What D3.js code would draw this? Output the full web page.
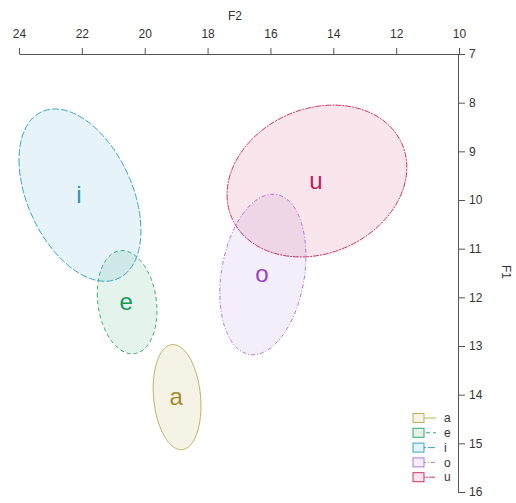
<!DOCTYPE html>
<html>
<head>
<meta charset="UTF-8">
<script src="https://d3js.org/d3.v7.min.js"></script>
<style>
  body { margin: 0; background: #fff; }
  svg text { font-family: "Liberation Sans", Arial, sans-serif; }
</style>
</head>
<body>
<div id="chart"></div>
<script>
// vowel data: means, half-extents and correlation of F2/F1 (in 100 Hz)
const vowels = ["a", "e", "i", "o", "u"];
const meanF2 = [18.97, 20.56, 22.06, 16.24, 14.52];
const meanF1 = [14.05, 12.10, 9.90, 11.53, 9.61];
const radF2 = [0.76, 0.95, 1.94, 1.37, 2.86];
const radF1 = [1.08, 1.06, 1.77, 1.65, 1.56];
const corr = [-0.17, -0.17, -0.41, 0.23, 0.18];
const xTicks = [24, 22, 20, 18, 16, 14, 12, 10];
const yTicks = [7, 8, 9, 10, 11, 12, 13, 14, 15, 16];

const lineCol = ["#bfae62", "#2fa873", "#3aa3c6", "#b07ad6", "#c8336a"];
const fillCol = ["#b09a40", "#30a870", "#40a6cc", "#a874d8", "#d03a6a"];
const textCol = ["#a38b2c", "#12975a", "#2896c0", "#9444c6", "#c0205a"];
const dash = [null, "4,3", "7,2", "1,2,4,2", "6,1,2,1"];

const width = 516, height = 503;
const svg = d3.select("#chart").append("svg")
  .attr("width", width).attr("height", height);

const x = d3.scaleLinear().domain([24, 10]).range([19, 459]);
const y = d3.scaleLinear().domain([7, 16]).range([54, 492]);

// ellipses
const ts = d3.range(0, 2 * Math.PI, Math.PI / 90);
const line = d3.line().x(d => x(d[0])).y(d => y(d[1])).curve(d3.curveLinearClosed);
vowels.forEach((v, i) => {
  const r = corr[i], q = Math.sqrt(1 - r * r);
  const pts = ts.map(t => [
    meanF2[i] + radF2[i] * Math.cos(t),
    meanF1[i] + radF1[i] * (r * Math.cos(t) + q * Math.sin(t))
  ]);
  svg.append("path")
    .attr("d", line(pts))
    .attr("fill", fillCol[i])
    .attr("fill-opacity", 0.13)
    .attr("stroke", lineCol[i])
    .attr("stroke-width", 1)
    .attr("stroke-dasharray", dash[i]);
});

vowels.forEach((v, i) => {
  svg.append("text")
    .attr("x", x(meanF2[i]) - 1)
    .attr("y", y(meanF1[i]))
    .attr("dy", "0.33em")
    .attr("text-anchor", "middle")
    .attr("font-size", 24)
    .attr("fill", textCol[i])
    .text(v);
});

// axes
const xAxis = svg.append("g")
  .attr("transform", "translate(0,54)")
  .call(d3.axisTop(x).tickValues(xTicks).tickSize(6).tickPadding(10).tickSizeOuter(0));
const yAxis = svg.append("g")
  .attr("transform", "translate(458,0)")
  .call(d3.axisRight(y).tickValues(yTicks).tickSize(7).tickPadding(4).tickSizeOuter(0));
[xAxis, yAxis].forEach(g => {
  g.selectAll("path, line").attr("stroke", "#555");
  g.selectAll("text").attr("font-size", 12).attr("fill", "#333")
    .attr("font-family", "Liberation Sans, Arial, sans-serif");
});

svg.append("text").attr("x", 235).attr("y", 20)
  .attr("text-anchor", "middle").attr("font-size", 12).attr("fill", "#333").text("F2");
svg.append("text")
  .attr("transform", "translate(502,272) rotate(90)")
  .attr("text-anchor", "middle").attr("font-size", 12).attr("fill", "#333").text("F1");

// legend
const leg = svg.append("g").attr("transform", "translate(413,418)");
vowels.forEach((v, i) => {
  const row = leg.append("g").attr("transform", `translate(0,${i * 14.8})`);
  row.append("line").attr("x1", 6).attr("x2", 23).attr("y1", 0).attr("y2", 0)
    .attr("stroke", lineCol[i]).attr("stroke-dasharray", dash[i]);
  row.append("rect").attr("x", 0).attr("y", -4.5).attr("width", 11).attr("height", 9)
    .attr("fill", "#fff").attr("stroke", "none");
  row.append("rect").attr("x", 0).attr("y", -4.5).attr("width", 11).attr("height", 9)
    .attr("fill", fillCol[i]).attr("fill-opacity", 0.13)
    .attr("stroke", lineCol[i]);
  row.append("text").attr("x", 31).attr("y", 0).attr("dy", "0.35em")
    .attr("font-size", 12).attr("fill", "#333").text(v);
});
</script>
</body>
</html>
